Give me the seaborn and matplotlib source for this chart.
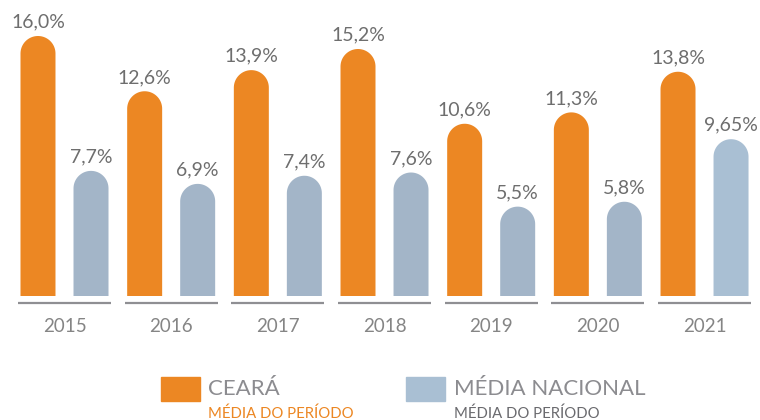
import numpy as np
import pandas as pd
import matplotlib
matplotlib.use("Agg")
import matplotlib.pyplot as plt
import seaborn as sns
from matplotlib.path import Path
from matplotlib.patches import PathPatch, Rectangle

# data
years = ["2015", "2016", "2017", "2018", "2019", "2020", "2021"]
ceara = [16.0, 12.6, 13.9, 15.2, 10.6, 11.3, 13.8]
nacional = [7.7, 6.9, 7.4, 7.6, 5.5, 5.8, 9.65]
ceara_labels = ["16,0%", "12,6%", "13,9%", "15,2%", "10,6%", "11,3%", "13,8%"]
nacional_labels = ["7,7%", "6,9%", "7,4%", "7,6%", "5,5%", "5,8%", "9,65%"]

ORANGE = "#ec8723"
BLUE = "#a3b5c8"
BLUE_LAST = "#a9bfd3"
TEXT = "#6e6e6e"
LEGEND_TEXT = "#8c8c90"

df = pd.DataFrame({
    "ano": years * 2,
    "valor": ceara + nacional,
    "serie": ["CEARÁ"] * len(years) + ["MÉDIA NACIONAL"] * len(years),
})

sns.set_style("white")
plt.rcParams["font.family"] = ["Lato", "DejaVu Sans"]

W, H = 760, 420
fig = plt.figure(figsize=(W / 100, H / 100), dpi=100)
base_px, top_px = 296, 20
ax = fig.add_axes([0, (H - base_px) / H, 1, (base_px - top_px) / H])

sns.barplot(data=df, x="ano", y="valor", hue="serie", order=years,
            palette=[ORANGE, BLUE], width=0.994, gap=0.34, legend=False,
            saturation=1, ax=ax)

step_px = 106.67
first_px = 64.5
ax.set_xlim(-first_px / step_px, (W - first_px) / step_px)
px_per_y = 16.25
ax.set_ylim(0, (base_px - top_px) / px_per_y)
sx = W / (ax.get_xlim()[1] - ax.get_xlim()[0])
sy = px_per_y

# swap the square bars for bars with rounded tops
bars = [p for p in ax.patches if isinstance(p, Rectangle)]
labels = ceara_labels + nacional_labels
for i, bar in enumerate(bars):
    x0, w, h = bar.get_x(), bar.get_width(), bar.get_height()
    color = bar.get_facecolor()
    if i == len(bars) - 1:
        color = BLUE_LAST
    bar.set_visible(False)
    rx = w / 2
    ry = rx * sx / sy
    t = np.linspace(np.pi, 0, 40)
    cx = x0 + rx
    top = h - ry
    verts = [(x0, 0), (x0, top)]
    verts += [(cx + rx * np.cos(a), top + ry * np.sin(a)) for a in t]
    verts += [(x0 + w, 0), (x0, 0)]
    codes = [Path.MOVETO] + [Path.LINETO] * (len(verts) - 2) + [Path.CLOSEPOLY]
    ax.add_patch(PathPatch(Path(verts, codes), facecolor=color, edgecolor="none"))
    ax.annotate(labels[i], (cx, h), xytext=(0, 6), textcoords="offset points",
                ha="center", va="baseline", fontsize=14, color=TEXT)

# baseline under each year group
for i in range(len(years)):
    ax.plot([i - 0.436, i + 0.436], [-7 / sy, -7 / sy], color="#8f8f93",
            lw=1.6, clip_on=False, solid_capstyle="butt")

ax.set_xlabel("")
ax.set_ylabel("")
ax.set_yticks([])
ax.tick_params(axis="x", length=0, pad=16, labelsize=13.5, labelcolor="#858585")
sns.despine(ax=ax, left=True, bottom=True)

# legend
def fx(px):
    return px / W

def fy(py):
    return (H - py) / H

fig.add_artist(Rectangle((fx(161), fy(401)), 39 / W, 24 / H,
                         transform=fig.transFigure, color=ORANGE))
fig.text(fx(208), fy(389), "CEARÁ", fontsize=16, color=LEGEND_TEXT,
         va="center", ha="left")
fig.text(fx(208), fy(414), "MÉDIA DO PERÍODO", fontsize=10.7, color=ORANGE,
         va="center", ha="left")

fig.add_artist(Rectangle((fx(406), fy(401)), 39 / W, 24 / H,
                         transform=fig.transFigure, color=BLUE_LAST))
fig.text(fx(454), fy(389), "MÉDIA NACIONAL", fontsize=16, color=LEGEND_TEXT,
         va="center", ha="left")
fig.text(fx(454), fy(414), "MÉDIA DO PERÍODO", fontsize=10.7, color="#6a6a6e",
         va="center", ha="left")

fig.savefig("out.png", dpi=100)
